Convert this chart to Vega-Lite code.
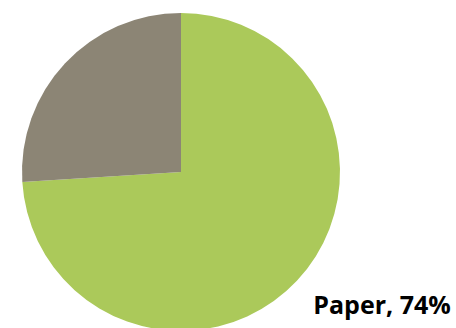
{
  "$schema": "https://vega.github.io/schema/vega-lite/v6.json",
  "width": 362,
  "height": 344,
  "padding": {"left": 0, "top": 0, "right": 94, "bottom": 0},
  "autosize": {"type": "none"},
  "background": "white",
  "view": {"stroke": null},
  "data": {
    "values": [
      {"material": "Paper", "share": 74, "rank": 1, "label": "Paper, 74%"},
      {"material": "Other", "share": 26, "rank": 2, "label": ""}
    ]
  },
  "encoding": {
    "theta": {"field": "share", "type": "quantitative", "stack": true},
    "order": {"field": "rank", "type": "quantitative"},
    "color": {
      "field": "material",
      "type": "nominal",
      "scale": {"domain": ["Paper", "Other"], "range": ["#abc95a", "#8c8575"]},
      "legend": null
    }
  },
  "layer": [
    {"mark": {"type": "arc", "radius": 159, "stroke": null}},
    {
      "mark": {
        "type": "text",
        "radius": 187,
        "dx": -4,
        "dy": 6,
        "align": "left",
        "baseline": "middle",
        "font": "Open Sans",
        "fontWeight": "bold",
        "fontSize": 25,
        "color": "#000000"
      },
      "encoding": {
        "text": {"field": "label", "type": "nominal"},
        "color": {"value": "#000000"}
      }
    }
  ]
}
